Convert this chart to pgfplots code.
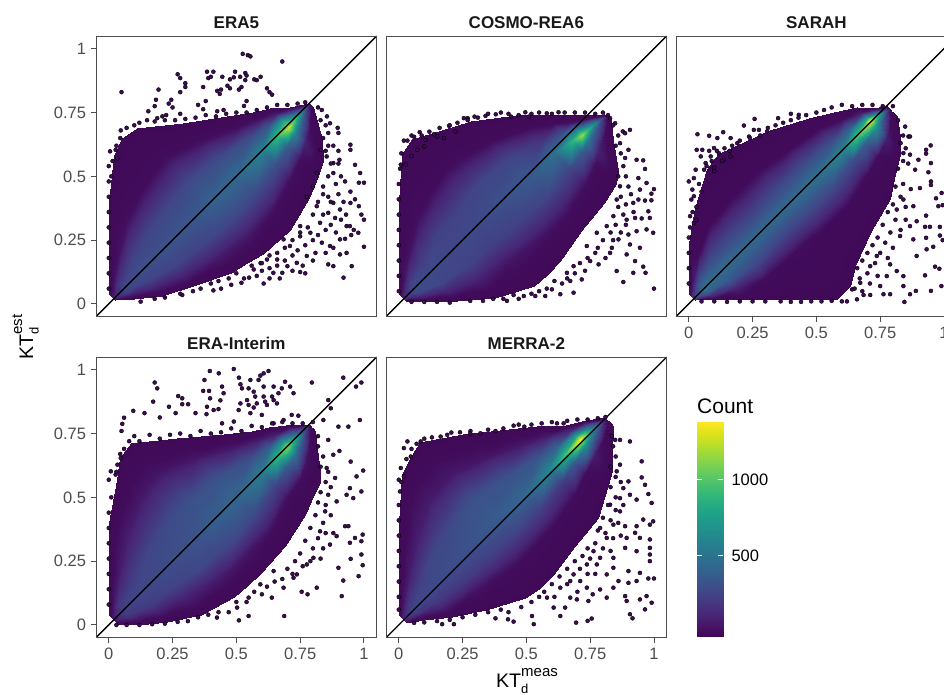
\documentclass[border=0pt]{standalone}
\usepackage{fontspec}
\setmainfont{Liberation Sans}
\usepackage{pgfplots}
\usepackage{pgfplotstable}
\pgfplotsset{compat=1.18}
\definecolor{vir0}{HTML}{400A58}
\definecolor{frame}{HTML}{4D4D4D}
\definecolor{ticktxt}{HTML}{4D4D4D}
\newcommand{\tickfont}{\fontsize{16.5}{18}\selectfont}
\pgfplotstableread[row sep=\\]{t s c\\
.02 .02 5\\ .02 .012 40\\ .02 .006 80\\ .02 0 110\\ .02 -.002 90\\ .02 -.004 40\\ .02 -.005 5\\
.06 .06 5\\ .06 .04 80\\ .06 .02 220\\ .06 0 290\\ .06 -.012 250\\ .06 -.026 100\\ .06 -.04 5\\
.12 .12 5\\ .12 .08 80\\ .12 .04 260\\ .12 0 330\\ .12 -.03 270\\ .12 -.06 110\\ .12 -.09 5\\
.2 .2 5\\ .2 .13 70\\ .2 .06 280\\ .2 0 340\\ .2 -.05 280\\ .2 -.09 130\\ .2 -.13 8\\
.3 .28 3\\ .3 .16 60\\ .3 .07 300\\ .3 0 360\\ .3 -.07 270\\ .3 -.12 110\\ .3 -.18 10\\
.35 .30 3\\ .35 .17 60\\ .35 .08 290\\ .35 0 380\\ .35 -.07 290\\ .35 -.13 100\\ .35 -.19 10\\
.4 .29 3\\ .4 .17 70\\ .4 .08 310\\ .4 0 430\\ .4 -.07 300\\ .4 -.14 90\\ .4 -.206 8\\
.5 .21 3\\ .5 .14 70\\ .5 .07 310\\ .5 0 470\\ .5 -.07 310\\ .5 -.14 70\\ .5 -.212 5\\
.6 .135 3\\ .6 .09 80\\ .6 .05 320\\ .6 0 600\\ .6 -.05 340\\ .6 -.11 70\\ .6 -.185 4\\
.66 .093 5\\ .66 .065 90\\ .66 .035 380\\ .66 0 950\\ .66 -.04 420\\ .66 -.09 70\\ .66 -.16 4\\
.7 .068 8\\ .7 .045 120\\ .7 .02 700\\ .7 -.005 1260\\ .7 -.03 620\\ .7 -.07 130\\ .7 -.14 4\\
.74 .03 20\\ .74 .02 150\\ .74 .01 450\\ .74 0 800\\ .74 -.02 380\\ .74 -.05 60\\ .74 -.095 4\\
.785 .004 10\\ .785 .002 40\\ .785 0 60\\ .785 -.003 60\\ .785 -.006 40\\ .785 -.01 15\\ .785 -.015 3\\
}\tabA
\pgfplotstableread[row sep=\\]{t s c\\
.02 .02 5\\ .02 .012 60\\ .02 .006 110\\ .02 0 150\\ .02 -.003 130\\ .02 -.006 60\\ .02 -.01 5\\
.06 .06 5\\ .06 .04 90\\ .06 .02 240\\ .06 0 330\\ .06 -.015 300\\ .06 -.03 150\\ .06 -.05 8\\
.12 .12 5\\ .12 .08 80\\ .12 .04 240\\ .12 0 310\\ .12 -.04 280\\ .12 -.07 140\\ .12 -.108 6\\
.2 .2 4\\ .2 .13 70\\ .2 .06 260\\ .2 0 290\\ .2 -.06 270\\ .2 -.11 120\\ .2 -.176 5\\
.3 .286 3\\ .3 .16 60\\ .3 .07 270\\ .3 0 300\\ .3 -.07 250\\ .3 -.13 90\\ .3 -.23 4\\
.35 .298 3\\ .35 .17 60\\ .35 .08 270\\ .35 0 320\\ .35 -.08 250\\ .35 -.14 85\\ .35 -.234 4\\
.4 .27 3\\ .4 .16 70\\ .4 .08 280\\ .4 0 340\\ .4 -.08 260\\ .4 -.15 75\\ .4 -.233 4\\
.5 .217 3\\ .5 .14 60\\ .5 .07 280\\ .5 -.01 380\\ .5 -.08 280\\ .5 -.15 70\\ .5 -.216 4\\
.6 .139 3\\ .6 .09 60\\ .6 .04 220\\ .6 -.01 500\\ .6 -.07 280\\ .6 -.13 70\\ .6 -.205 3\\
.66 .08 3\\ .66 .05 50\\ .66 .015 320\\ .66 -.02 900\\ .66 -.06 400\\ .66 -.11 70\\ .66 -.19 3\\
.69 .05 4\\ .69 .02 80\\ .69 -.005 550\\ .69 -.027 1180\\ .69 -.05 520\\ .69 -.09 130\\ .69 -.17 3\\
.74 0 6\\ .74 -.01 60\\ .74 -.02 320\\ .74 -.03 620\\ .74 -.045 300\\ .74 -.07 60\\ .74 -.10 3\\
.775 -.03 4\\ .775 -.033 15\\ .775 -.036 30\\ .775 -.04 35\\ .775 -.044 25\\ .775 -.05 12\\ .775 -.055 3\\
}\tabB
\pgfplotstableread[row sep=\\]{t s c\\
.02 .02 6\\ .02 .012 90\\ .02 .006 180\\ .02 0 220\\ .02 -.002 200\\ .02 -.003 120\\ .02 -.005 10\\
.06 .06 6\\ .06 .04 120\\ .06 .02 380\\ .06 0 530\\ .06 -.012 420\\ .06 -.026 180\\ .06 -.041 8\\
.12 .12 5\\ .12 .08 60\\ .12 .04 320\\ .12 0 490\\ .12 -.03 380\\ .12 -.06 130\\ .12 -.10 6\\
.2 .174 4\\ .2 .12 30\\ .2 .05 300\\ .2 0 470\\ .2 -.05 300\\ .2 -.1 60\\ .2 -.181 4\\
.3 .23 3\\ .3 .13 30\\ .3 .05 290\\ .3 0 470\\ .3 -.05 290\\ .3 -.11 50\\ .3 -.28 3\\
.35 .236 3\\ .35 .13 30\\ .35 .05 300\\ .35 0 470\\ .35 -.05 290\\ .35 -.11 50\\ .35 -.28 3\\
.4 .22 3\\ .4 .13 35\\ .4 .05 310\\ .4 0 480\\ .4 -.05 300\\ .4 -.12 45\\ .4 -.252 3\\
.5 .18 3\\ .5 .11 40\\ .5 .05 320\\ .5 0 510\\ .5 -.05 320\\ .5 -.12 45\\ .5 -.215 3\\
.6 .13 3\\ .6 .09 50\\ .6 .04 320\\ .6 0 620\\ .6 -.04 320\\ .6 -.10 50\\ .6 -.19 3\\
.66 .092 4\\ .66 .06 70\\ .66 .03 420\\ .66 0 1000\\ .66 -.03 420\\ .66 -.08 60\\ .66 -.15 3\\
.715 .055 6\\ .715 .035 130\\ .715 .015 800\\ .715 .004 1381\\ .715 -.02 700\\ .715 -.06 120\\ .715 -.115 4\\
.74 .027 8\\ .74 .02 120\\ .74 .01 500\\ .74 0 850\\ .74 -.02 350\\ .74 -.05 60\\ .74 -.087 4\\
.775 0 4\\ .775 -.004 25\\ .775 -.008 45\\ .775 -.012 50\\ .775 -.018 35\\ .775 -.028 15\\ .775 -.04 3\\
}\tabC
\pgfplotstableread[row sep=\\]{t s c\\
.02 .02 5\\ .02 .012 50\\ .02 .006 90\\ .02 0 110\\ .02 -.006 90\\ .02 -.012 50\\ .02 -.02 5\\
.06 .06 5\\ .06 .04 100\\ .06 .02 220\\ .06 0 270\\ .06 -.02 220\\ .06 -.04 90\\ .06 -.06 5\\
.12 .12 5\\ .12 .08 110\\ .12 .04 240\\ .12 0 290\\ .12 -.04 240\\ .12 -.07 120\\ .12 -.11 5\\
.2 .2 4\\ .2 .13 120\\ .2 .06 280\\ .2 0 310\\ .2 -.05 270\\ .2 -.09 140\\ .2 -.16 6\\
.3 .269 3\\ .3 .18 100\\ .3 .08 310\\ .3 0 340\\ .3 -.07 290\\ .3 -.12 110\\ .3 -.19 6\\
.35 .304 3\\ .35 .2 90\\ .35 .09 320\\ .35 0 360\\ .35 -.07 290\\ .35 -.13 100\\ .35 -.195 5\\
.4 .313 3\\ .4 .2 90\\ .4 .09 330\\ .4 0 410\\ .4 -.08 290\\ .4 -.13 90\\ .4 -.197 5\\
.5 .234 3\\ .5 .16 90\\ .5 .08 340\\ .5 0 460\\ .5 -.07 300\\ .5 -.13 70\\ .5 -.189 5\\
.6 .15 4\\ .6 .10 90\\ .6 .05 330\\ .6 0 580\\ .6 -.05 280\\ .6 -.10 70\\ .6 -.169 4\\
.66 .10 5\\ .66 .07 100\\ .66 .035 400\\ .66 0 920\\ .66 -.04 380\\ .66 -.09 70\\ .66 -.146 4\\
.7 .074 6\\ .7 .045 130\\ .7 .02 650\\ .7 0 1150\\ .7 -.03 520\\ .7 -.07 80\\ .7 -.131 4\\
.74 .045 8\\ .74 .03 100\\ .74 .012 420\\ .74 0 680\\ .74 -.02 320\\ .74 -.045 70\\ .74 -.08 4\\
.785 .003 4\\ .785 .002 20\\ .785 .001 30\\ .785 -.002 35\\ .785 -.008 30\\ .785 -.015 15\\ .785 -.025 3\\
}\tabD
\pgfplotstableread[row sep=\\]{t s c\\
.02 .02 5\\ .02 .012 70\\ .02 .006 120\\ .02 0 150\\ .02 -.003 120\\ .02 -.007 60\\ .02 -.012 5\\
.06 .06 5\\ .06 .04 100\\ .06 .02 230\\ .06 0 280\\ .06 -.012 210\\ .06 -.025 90\\ .06 -.04 6\\
.12 .12 4\\ .12 .08 110\\ .12 .04 260\\ .12 0 300\\ .12 -.03 220\\ .12 -.06 90\\ .12 -.09 6\\
.2 .2 3\\ .2 .13 120\\ .2 .07 290\\ .2 .01 320\\ .2 -.04 230\\ .2 -.08 80\\ .2 -.14 6\\
.3 .287 3\\ .3 .18 110\\ .3 .09 310\\ .3 .02 350\\ .3 -.05 240\\ .3 -.10 70\\ .3 -.193 5\\
.35 .305 3\\ .35 .19 100\\ .35 .10 330\\ .35 .02 380\\ .35 -.05 250\\ .35 -.11 65\\ .35 -.205 4\\
.4 .317 3\\ .4 .19 100\\ .4 .10 340\\ .4 .02 400\\ .4 -.05 260\\ .4 -.11 65\\ .4 -.205 4\\
.5 .249 3\\ .5 .16 90\\ .5 .08 340\\ .5 .01 450\\ .5 -.05 260\\ .5 -.11 60\\ .5 -.19 4\\
.6 .169 3\\ .6 .11 100\\ .6 .06 350\\ .6 .01 620\\ .6 -.04 240\\ .6 -.09 55\\ .6 -.18 3\\
.66 .12 4\\ .66 .08 110\\ .66 .04 420\\ .66 .01 950\\ .66 -.025 380\\ .66 -.07 55\\ .66 -.15 3\\
.72 .065 6\\ .72 .045 150\\ .72 .025 750\\ .72 .009 1381\\ .72 -.015 650\\ .72 -.05 110\\ .72 -.115 3\\
.76 .04 8\\ .76 .03 110\\ .76 .018 420\\ .76 .005 700\\ .76 -.015 320\\ .76 -.04 50\\ .76 -.075 3\\
.81 .005 3\\ .81 .002 10\\ .81 0 20\\ .81 -.005 25\\ .81 -.012 15\\ .81 -.02 8\\ .81 -.03 2\\
}\tabE
\pgfplotsset{
  colormap={virpanel}{rgb255(0pt)=(64,10,88) rgb255(60pt)=(66,12,92) rgb255(138pt)=(72,36,117) rgb255(276pt)=(65,68,135) rgb255(414pt)=(53,95,141) rgb255(552pt)=(42,120,142) rgb255(690pt)=(33,145,140) rgb255(828pt)=(34,168,132) rgb255(967pt)=(68,191,112) rgb255(1105pt)=(122,209,81) rgb255(1243pt)=(189,223,38) rgb255(1381pt)=(253,231,37)},
  panel/.style={scale only axis,width=280.7pt,height=280.7pt,anchor=south west,
    xmin=-.05,xmax=1.05,ymin=-.05,ymax=1.05,
    xtick={0,.25,.5,.75,1},ytick={0,.25,.5,.75,1},
    xticklabels={0,0.25,0.5,0.75,1},yticklabels={0,0.25,0.5,0.75,1},
    colormap name=virpanel,point meta min=0,point meta max=1381,
    tick align=outside,major tick length=5pt,
    xtick pos=bottom,ytick pos=left,
    axis line style={draw=frame,line width=.9pt},
    tick style={draw=frame,line width=.9pt},
    ticklabel style={font=\tickfont,text=ticktxt},
    xticklabel style={yshift=-1.5pt},
    yticklabel style={xshift=-1.5pt},
    title style={font=\fontsize{17}{19}\selectfont\bfseries,yshift=-2pt,text=black!90},
    axis on top},
  nox/.style={xmajorticks=false},
  noy/.style={ymajorticks=false},
  dens/.style={surf,shader=interp,mesh/rows=13,mesh/cols=7,point meta=\thisrow{c}},
  dots/.style={only marks,mark=*,mark size=2pt,mark options={fill=vir0,draw=none}},
  diag/.style={black,line width=1.35pt,no marks}
}
\begin{document}
\begin{tikzpicture}[x=1pt,y=1pt]
\path[use as bounding box,clip] (0,0) rectangle (944,695);
% ---------- ERA5
\begin{axis}[panel,nox,at={(96pt,378.3pt)},title={ERA5}]
\addplot[dens] table[x expr=\thisrow{t}-\thisrow{s},y expr=\thisrow{t}+\thisrow{s}] {\tabA};
\addplot[dots] coordinates {(.05,.83)(.27,.90)(.28,.885)(.30,.865)(.30,.85)(.28,.83)(.385,.91)(.41,.91)(.39,.885)(.40,.89)(.445,.89)(.495,.91)(.535,.905)(.54,.895)(.475,.88)(.49,.888)(.515,.89)(.535,.877)(.57,.88)(.595,.89)(.58,.877)(.37,.85)(.425,.835)(.44,.84)(.435,.823)(.465,.855)(.475,.845)(.51,.84)(.52,.85)(.62,.845)(.63,.83)(.64,.82)(.525,.98)(.545,.975)(.555,.97)(.68,.95)
(.195,.84)(.185,.80)(.18,.775)(.155,.755)(.245,.80)(.235,.785)(.25,.77)(.19,.728)(.21,.735)(.225,.74)(.28,.745)(.35,.78)(.38,.795)(.37,.763)(.425,.755)(.45,.76)(.53,.776)(.54,.795)
(.047,.68)(.045,.65)(.005,.598)(0,.54)(.027,.604)(.034,.57)(0,.48)
(1.0,.475)(.98,.475)(.947,.624)(.947,.604)(1.0,.33)(.99,.35)(.98,.383)(1.0,.224)(.952,.148)(.92,.103)(.88,.148)(.86,.155)(.965,.545)(.985,.513)(.926,.48)(.947,.44)(.965,.41)(.947,.396)(.90,.6)(.904,.565)(.88,.552)(.90,.67)(.897,.69)(.867,.708)(.835,.76)(.855,.735)(.86,.67)(.83,.604)(.854,.578)(.88,.513)(.84,.46)(.86,.42)(.88,.396)(.906,.37)(.86,.357)(.887,.337)(.828,.318)(.932,.305)(.96,.29)(.978,.279)(.945,.305)(.906,.253)(.926,.255)(.932,.2)(.906,.194)(.867,.227)(.835,.24)(.81,.2)(.776,.188)(.737,.161)(.70,.148)(.75,.125)(.77,.12)(.68,.122)(.645,.122)(.607,.08)(.55,.103)(.52,.083)(.41,.053)(.288,.035)(.125,.009)(.568,.135)(.62,.174)(.66,.174)(.595,.16)(.71,.227)(.75,.265)(.79,.279)(.815,.383)(.776,.42)(.75,.305)(.685,.253)(.80,.46)(.815,.513)
(.28,.04)(.33,.05)(.36,.06)(.4,.08)(.43,.09)(.47,.1)(.5,.12)(.53,.1)(.56,.15)(.6,.16)(.63,.19)(.66,.2)(.69,.22)(.72,.25)(.75,.28)(.78,.3)(.8,.35)(.82,.4)(.84,.43)(.86,.5)(.85,.6)(.84,.65)(.85,.7)(.83,.72)(.82,.77)(.58,.11)(.6,.13)(.63,.14)(.66,.15)(.69,.17)(.72,.19)(.74,.21)(.77,.23)(.8,.25)(.82,.27)(.85,.29)(.87,.31)(.89,.28)(.91,.33)(.84,.35)(.87,.4)(.9,.43)(.92,.4)(.89,.47)(.91,.5)(.87,.55)(.86,.62)(.88,.62)(.9,.55)(.93,.35)(.95,.27)(.88,.22)(.85,.2)(.8,.17)(.76,.15)(.72,.13)(.67,.1)(.63,.1)(.48,.075)(.44,.06)(.22,.025)(.18,.02)
(.07,.69)(.1,.7)(.12,.71)(.15,.72)(.18,.715)(.22,.72)(.26,.72)(.3,.725)(.34,.73)(.38,.74)(.42,.735)(.46,.745)(.5,.75)(.54,.75)(.58,.76)(.62,.77)(.66,.78)(.7,.78)(.74,.785)(.77,.79)(.03,.62)(.015,.56)(.01,.5)(0,.42)(0,.36)(0,.3)(0,.24)(0,.18)(0,.12)(0,.06)};
\addplot[diag] coordinates {(-.05,-.05)(1.05,1.05)};
\end{axis}
% ---------- COSMO-REA6
\begin{axis}[panel,nox,noy,at={(386pt,378.3pt)},title={COSMO-REA6}]
\addplot[dens] table[x expr=\thisrow{t}-\thisrow{s},y expr=\thisrow{t}+\thisrow{s}] {\tabB};
\addplot[dots] coordinates {(.02,.64)(.034,.64)(.05,.66)(.082,.673)(.105,.643)(.138,.665)(.15,.656)(.177,.65)(.197,.698)(.223,.676)(.255,.728)(.27,.728)(.297,.734)(.34,.737)(.38,.743)(.44,.734)(.496,.751)(.51,.734)(.58,.747)(.626,.751)(.008,.546)(.027,.546)(.05,.58)(.073,.604)(.1,.617)
(.828,.728)(.848,.708)(.878,.676)(.906,.682)(.887,.669)(.867,.63)(.9,.604)(.887,.572)(.932,.565)(.958,.5625)(.965,.529)(.939,.493)(.971,.474)(1.0,.45)(.945,.448)(.99,.432)(.939,.409)(.99,.406)(.965,.405)(.919,.396)(.978,.363)(.984,.337)(.952,.335)(.926,.337)(.893,.33)(.997,.279)(.971,.292)(.932,.285)(.9,.272)(.861,.253)(.906,.233)(.945,.22)(.835,.22)(.893,.194)(.926,.168)(.958,.146)(.967,.122)(.919,.122)(.854,.129)(.88,.086)(1.0,.06)(.783,.155)(.828,.2)(.75,.168)(.717,.096)(.672,.09)(.685,.044)(.633,.038)(.6,.057)(.574,.031)(.535,.031)(.49,.031)(.424,.012)(.737,.227)(.776,.279)(.815,.305)(.841,.344)(.854,.409)(.867,.461)(.685,.148)(.659,.122)
(.06,.655)(.09,.66)(.12,.675)(.16,.69)(.2,.7)(.23,.71)(.27,.72)(.31,.73)(.35,.745)(.4,.75)(.43,.745)(.47,.74)(.52,.745)(.55,.75)(.6,.745)(.65,.75)(.69,.75)(.73,.75)(.77,.745)(.8,.75)(.82,.74)(.01,.59)(.005,.53)(0,.47)(0,.41)(0,.35)(0,.29)(0,.23)(0,.17)(0,.11)(0,.05)
(.84,.7)(.86,.66)(.85,.62)(.87,.59)(.88,.54)(.86,.5)(.89,.5)(.9,.46)(.87,.42)(.91,.43)(.89,.39)(.86,.38)(.92,.36)(.88,.35)(.85,.31)(.89,.31)(.83,.28)(.87,.28)(.8,.25)(.84,.25)(.78,.22)(.81,.18)(.77,.2)(.74,.18)(.71,.16)(.73,.13)(.69,.12)(.66,.1)(.64,.08)(.61,.09)(.58,.06)(.55,.05)(.52,.04)(.47,.02)(.45,.035)(.41,.02)(.37,.02)(.33,.012)(.28,.012)(.2,.005)(.15,.008)(.1,.008)(.05,.008)};
\addplot[diag] coordinates {(-.05,-.05)(1.05,1.05)};
\end{axis}
% ---------- SARAH
\begin{axis}[panel,noy,at={(676pt,378.3pt)},title={SARAH}]
\addplot[dens] table[x expr=\thisrow{t}-\thisrow{s},y expr=\thisrow{t}+\thisrow{s}] {\tabC};
\addplot[dots] coordinates {(0,.48)(.02,.493)(.034,.665)(.08,.659)(.112,.65)(.135,.673)(.164,.65)(.216,.699)(.258,.725)(.255,.682)(.275,.682)(.236,.656)(.307,.676)(.35,.728)(.4,.745)(.431,.741)(.031,.604)(.053,.604)(.047,.578)(.066,.552)(.099,.611)(.118,.591)(.086,.578)(.027,.526)(.06,.526)(.099,.533)(.138,.565)(.164,.578)(.19,.63)(.014,.448)(.02,.422)(.005,.344)(.02,.318)(.01,.409)
(.948,.621)(.93,.604)(.93,.589)(.949,.552)(.939,.516)(.949,.48)(.949,.466)(.991,.435)(.969,.414)(.978,.383)(.995,.387)(.93,.346)(.926,.302)(.945,.302)(.984,.302)(.984,.268)(.995,.25)(.93,.259)(.958,.224)(.932,.214)(.965,.146)(.982,.138)(.926,.112)(.99,.07)(.949,.051)(.89,.051)(.867,.038)(.845,.008)(.841,.07)(.789,.038)(.763,.038)(.711,.035)(.685,.035)(.659,.018)(.861,.656)(.867,.656)(.848,.695)(.841,.591)(.867,.585)(.9,.565)(.887,.526)(.906,.454)(.88,.383)(.893,.324)(.867,.305)(.828,.266)(.88,.253)(.893,.188)(.815,.129)(.841,.109)(.776,.109)(.75,.07)(.789,.155)(.737,.188)(.711,.148)(.672,.083)(.64,.057)(.815,.37)(.841,.409)
(.07,.54)(.09,.56)(.11,.6)(.14,.61)(.17,.62)(.2,.64)(.24,.65)(.28,.66)(.31,.69)(.34,.7)(.37,.71)(.4,.72)(.43,.73)(.46,.74)(.5,.75)(.53,.76)(.56,.77)(.6,.78)(.64,.775)(.68,.78)(.72,.78)(.76,.775)(.8,.775)(.04,.47)(.03,.38)(.015,.36)(.005,.3)(0,.26)(0,.2)(0,.14)(0,.08)(.08,.6)(.1,.52)(.13,.56)(.16,.6)(.05,.44)(.03,.33)
(.82,.72)(.84,.66)(.83,.63)(.85,.61)(.84,.56)(.82,.53)(.86,.55)(.81,.46)(.84,.47)(.87,.45)(.8,.39)(.83,.42)(.85,.38)(.78,.36)(.81,.33)(.85,.33)(.76,.31)(.79,.28)(.83,.29)(.74,.26)(.77,.24)(.8,.22)(.72,.23)(.75,.2)(.78,.18)(.7,.2)(.73,.16)(.68,.17)(.66,.14)(.7,.12)(.74,.11)(.67,.1)(.71,.08)(.65,.06)(.68,.05)(.62,.01)(.6,.01)(.56,.012)(.52,.01)(.48,.01)(.44,.008)(.4,.008)(.36,.01)(.3,.01)(.25,.01)(.2,.01)(.15,.008)(.1,.01)(.05,.01)};
\addplot[diag] coordinates {(-.05,-.05)(1.05,1.05)};
\end{axis}
% ---------- ERA-Interim
\begin{axis}[panel,at={(96pt,57.3pt)},title={ERA-Interim}]
\addplot[dens] table[x expr=\thisrow{t}-\thisrow{s},y expr=\thisrow{t}+\thisrow{s}] {\tabD};
\addplot[dots] coordinates {(.396,.995)(.431,.986)(.49,1.003)(.51,.969)(.626,.995)(.607,.986)(.594,.977)(.375,.96)(.555,.96)(.516,.943)(.587,.96)(.18,.95)(.19,.927)(.174,.875)(.096,.839)(.14,.83)(.06,.812)(.053,.788)(.05,.76)(.2,.813)(.236,.855)(.272,.897)(.288,.888)(.288,.865)(.311,.865)(.262,.83)(.34,.83)(.37,.917)(.393,.917)(.397,.888)(.385,.855)(.383,.826)(.411,.842)(.444,.934)(.45,.908)(.4375,.88)(.43,.846)(.522,.927)(.548,.927)(.568,.914)(.607,.934)(.646,.934)(.691,.953)(.711,.934)(.678,.927)(.724,.908)(.665,.908)(.64,.895)(.607,.895)(.574,.895)(.542,.881)(.516,.868)(.548,.862)(.58,.868)(.613,.875)(.646,.881)(.659,.868)(.62,.862)(.568,.852)(.509,.842)(.555,.83)(.6,.823)(.49,.797)(.444,.79)(.796,.95)(.919,.969)(.969,.934)(.99,.95)(.86,.881)(.87,.849)(.984,.803)(.9,.777)(.939,.777)(.717,.823)(.743,.82)(.841,.803)(.685,.803)(.646,.79)
(.997,.605)(.948,.64)(.904,.682)(.971,.582)(.945,.536)(.99,.523)(.932,.51)(.958,.497)(.926,.387)(.939,.387)(.893,.348)(.965,.341)(.995,.354)(.99,.328)(.945,.322)(.99,.276)(.995,.234)(.948,.259)(.9,.224)(.919,.174)(.979,.191)(.913,.113)(.815,.146)(.779,.12)(.756,.13)(.6875,.035)(.548,.035)(.51,.018)(.424,.029)(.86,.725)(.88,.667)(.854,.615)(.887,.576)(.86,.51)(.893,.484)(.848,.445)(.828,.367)(.867,.315)(.802,.263)(.737,.198)(.685,.146)(.646,.211)(.594,.159)(.503,.068)(.548,.107)(.639,.107)(.724,.185)(.776,.237)
(0,.569)(.008,.602)(.027,.589)(.034,.628)(.047,.654)
(.03,.6)(.045,.67)(.06,.69)(.08,.72)(.1,.74)(.12,.72)(.16,.745)(.2,.73)(.24,.745)(.28,.75)(.32,.74)(.36,.76)(.4,.75)(.44,.755)(.48,.77)(.52,.76)(.56,.78)(.6,.775)(.64,.79)(.68,.795)(.72,.79)(.76,.79)(.8,.795)(.01,.5)(0,.44)(0,.38)(0,.32)(0,.26)(0,.2)(0,.14)(0,.08)
(.82,.74)(.82,.7)(.84,.66)(.83,.62)(.86,.6)(.85,.56)(.83,.52)(.87,.54)(.82,.48)(.85,.47)(.81,.43)(.84,.4)(.87,.43)(.79,.38)(.82,.34)(.85,.36)(.88,.36)(.77,.33)(.8,.3)(.84,.3)(.75,.28)(.79,.25)(.83,.26)(.73,.25)(.76,.23)(.7,.22)(.72,.2)(.68,.18)(.65,.17)(.62,.15)(.6,.12)(.57,.13)(.54,.09)(.5,.09)(.47,.05)(.43,.05)(.39,.04)(.35,.03)(.31,.015)(.27,.012)(.22,.005)(.17,.003)(.12,0)(.07,0)(.03,0)};
\addplot[diag] coordinates {(-.05,-.05)(1.05,1.05)};
\end{axis}
% ---------- MERRA-2
\begin{axis}[panel,noy,at={(386pt,57.3pt)},title={MERRA-2}]
\addplot[dens] table[x expr=\thisrow{t}-\thisrow{s},y expr=\thisrow{t}+\thisrow{s}] {\tabE};
\addplot[dots] coordinates {(.034,.719)(.02,.693)(.008,.615)(0,.569)(.02,.582)(.047,.66)(.086,.719)(.164,.738)(.206,.754)(.281,.76)(.32,.751)(.379,.76)(.45,.781)(.492,.777)(.62,.79)(.646,.79)(.005,.523)
(.867,.725)(.906,.719)(.848,.725)(.952,.641)(.867,.628)(.854,.602)(.9,.5625)(.952,.578)(.965,.549)(.978,.513)(.991,.478)(.932,.491)(.906,.51)(.88,.536)(.958,.413)(.997,.406)(.984,.393)(.932,.387)(.887,.387)(.926,.361)(.893,.341)(.945,.341)(.984,.335)(.984,.302)(.932,.289)(.887,.302)(.984,.276)(.984,.25)(1.0,.182)(.978,.182)(.945,.204)(.932,.172)(.9,.211)(.9,.165)(.861,.172)(.841,.224)(.815,.198)(.789,.263)(.841,.263)(.776,.237)(.971,.113)(.991,.087)(.965,.061)(.945,.1)(.887,.113)(.893,.094)(.841,.146)(.815,.107)(.789,.139)(.737,.146)(.743,.094)(.698,.1)(.672,.107)(.711,.172)(.672,.172)(.906,.042)(.916,.026)(.756,.025)(.74,.016)(.695,.009)(.652,.068)(.633,.035)(.607,.068)(.529,.003)(.522,.035)(.45,.013)(.428,.022)(.379,.026)(.216,.003)(.17,.003)(.737,.237)(.763,.289)(.815,.341)(.841,.393)(.789,.38)(.867,.445)(.828,.471)(.867,.497)(.685,.198)(.633,.146)(.581,.107)
(.03,.65)(.05,.69)(.07,.71)(.1,.73)(.13,.735)(.19,.745)(.24,.755)(.28,.75)(.35,.765)(.41,.77)(.47,.785)(.52,.785)(.56,.79)(.6,.795)(.66,.8)(.7,.805)(.74,.805)(.78,.81)(.81,.815)(.01,.56)(0,.47)(0,.41)(0,.35)(0,.29)(0,.23)(0,.17)(0,.11)(0,.06)
(.835,.74)(.84,.7)(.85,.66)(.83,.62)(.85,.58)(.87,.56)(.83,.54)(.85,.5)(.82,.47)(.85,.45)(.88,.47)(.8,.42)(.83,.41)(.86,.4)(.78,.37)(.81,.36)(.84,.34)(.87,.35)(.74,.3)(.77,.32)(.8,.3)(.83,.29)(.72,.27)(.75,.26)(.69,.25)(.71,.22)(.66,.22)(.74,.2)(.77,.2)(.63,.19)(.66,.16)(.6,.16)(.7,.13)(.76,.12)(.57,.13)(.55,.11)(.61,.11)(.52,.09)(.48,.07)(.43,.05)(.4,.06)(.35,.05)(.3,.04)(.25,.03)(.2,.02)(.15,.015)(.1,.01)(.06,.008)};
\addplot[diag] coordinates {(-.05,-.05)(1.05,1.05)};
\end{axis}
% ---------- colour bar
\begin{axis}[scale only axis,width=26pt,height=215pt,anchor=south west,at={(697pt,58.3pt)},
  xmin=0,xmax=1,ymin=-33,ymax=1381,xmajorticks=false,
  ytick={500,1000},ytick pos=both,yticklabel pos=right,
  tick align=inside,major tick length=5pt,tick style={draw=white,line width=.5pt},
  axis line style={draw=none},
  colormap name=viridis,point meta min=-33,point meta max=1381,
  yticklabel style={font=\fontsize{16.5}{18}\selectfont,text=black,xshift=5pt},
  yticklabels={500,1000},axis on top]
\addplot[surf,shader=interp,mesh/rows=2,mesh/cols=2,point meta=\thisrow{c}] table[row sep=\\]{x y c\\ 0 -33 -33\\ 1 -33 -33\\ 0 1381 1381\\ 1 1381 1381\\};
\end{axis}
\node[anchor=west,inner sep=0,font=\fontsize{21}{23}\selectfont] at (697,289) {Count};
% ---------- axis titles
\node[anchor=base,inner sep=0,font=\fontsize{19.6}{22}\selectfont] at (527,7.3)
  {KT\rlap{\raisebox{-5.5pt}{\fontsize{13}{14}\selectfont d}}\raisebox{11pt}{\fontsize{15}{16}\selectfont meas}};
\node[anchor=base,rotate=90,inner sep=0,font=\fontsize{19.6}{22}\selectfont] at (33,358)
  {KT\rlap{\raisebox{-5.5pt}{\fontsize{13}{14}\selectfont d}}\raisebox{11pt}{\fontsize{15}{16}\selectfont est}};
\end{tikzpicture}
\end{document}
